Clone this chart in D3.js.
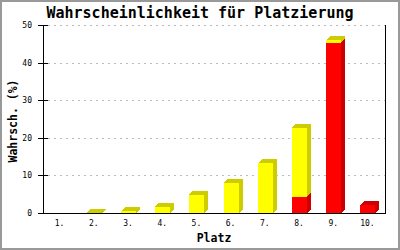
<!DOCTYPE html>
<html>
<head>
<meta charset="utf-8">
<script src="https://cdn.jsdelivr.net/npm/d3@7"></script>
<style>
html,body{margin:0;padding:0;background:#fff;}
svg{display:block;}
</style>
</head>
<body>
<script>
const categories = ["1.","2.","3.","4.","5.","6.","7.","8.","9.","10."];
const redValues =    [0, 0,   0,   0,   0,   0,   0,    4.3, 45.3, 2.0];
const yellowValues = [0, 0.1, 0.5, 1.6, 4.8, 8.1, 13.2, 18.4, 0.7, 0];
const yTicks = [0,10,20,30,40,50];
const titleText = "Wahrscheinlichkeit für Platzierung";
const xTitle = "Platz";
const yTitle = "Wahrsch. (%)";

const W = 400, H = 250;
const L = 43, R = 385, T = 25, B = 213;
const mono = "'DejaVu Sans Mono', 'Liberation Mono', monospace";

const svg = d3.select("body").append("svg").attr("width", W).attr("height", H);
svg.append("rect").attr("x",0).attr("y",0).attr("width",W).attr("height",H).attr("fill","#fff");
svg.append("rect").attr("x",1).attr("y",1).attr("width",W-2).attr("height",H-2)
  .attr("fill","none").attr("stroke","#999").attr("stroke-width",2);

const x = d3.scaleBand().domain(categories).range([L, R]).padding(0);
const y = d3.scaleLinear().domain([0, 50]).range([B, T]);

// grid
svg.append("g").selectAll("line").data(yTicks.filter(d => d > 0)).join("line")
  .attr("x1", L + 5).attr("x2", R).attr("y1", d => Math.round(y(d)) + 0.5).attr("y2", d => Math.round(y(d)) + 0.5)
  .attr("stroke", "#bbb").attr("stroke-dasharray", "2,4");

// stacked data
const series = [
  {vals: redValues, front: "#ff0000", dark: "#cc0000"},
  {vals: yellowValues, front: "#ffff00", dark: "#cccc00"}
];
const bw = 15, depth = 4;
const gBars = svg.append("g").attr("shape-rendering", "crispEdges");
categories.forEach((c, i) => {
  let base = 0;
  const cx = x(c) + x.bandwidth() / 2;
  const x0 = Math.round(cx - bw / 2), x1 = x0 + bw;
  series.forEach(s => {
    const v = s.vals[i];
    if (v <= 0) return;
    const yb = y(base), yt = y(base + v);
    base += v;
    // front
    gBars.append("rect").attr("x", x0).attr("y", yt).attr("width", bw).attr("height", yb - yt).attr("fill", s.front);
    // side
    gBars.append("path").attr("d", `M${x1},${yt}L${x1+depth},${yt-depth}L${x1+depth},${yb-depth}L${x1},${yb}Z`).attr("fill", s.dark);
    // top
    gBars.append("path").attr("d", `M${x0},${yt}L${x0+depth},${yt-depth}L${x1+depth},${yt-depth}L${x1},${yt}Z`).attr("fill", s.dark);
  });
});

// axes
const axG = svg.append("g").attr("shape-rendering", "crispEdges");
axG.append("line").attr("x1", L+0.5).attr("x2", L+0.5).attr("y1", T).attr("y2", B+1).attr("stroke", "#000");
axG.append("line").attr("x1", R+0.5).attr("x2", R+0.5).attr("y1", T).attr("y2", B+1).attr("stroke", "#000");
axG.append("line").attr("x1", L).attr("x2", R+1).attr("y1", B+0.5).attr("y2", B+0.5).attr("stroke", "#000");
axG.selectAll("line.tick").data(yTicks).join("line").attr("class","tick")
  .attr("x1", L - 5).attr("x2", L + 5).attr("y1", d => Math.round(y(d)) + 0.5).attr("y2", d => Math.round(y(d)) + 0.5)
  .attr("stroke", "#000");

svg.append("g").selectAll("text").data(yTicks).join("text")
  .attr("x", 32).attr("y", d => Math.round(y(d)) + 3)
  .attr("text-anchor", "end").attr("font-family", mono).attr("font-size", 8).text(d => d);

svg.append("g").selectAll("text").data(categories).join("text")
  .attr("x", d => x(d) + x.bandwidth()/2 - 0.5).attr("y", 226)
  .attr("text-anchor", "middle").attr("font-family", mono).attr("font-size", 8).text(d => d);

svg.append("text").attr("x", 200).attr("y", 18).attr("text-anchor", "middle")
  .attr("font-family", mono).attr("font-weight", "bold").attr("font-size", 15).text(titleText);
svg.append("text").attr("x", (L+R)/2).attr("y", 242).attr("text-anchor", "middle")
  .attr("font-family", mono).attr("font-weight", "bold").attr("font-size", 11.5).text(xTitle);
svg.append("text").attr("transform", `translate(17,${(T+B)/2+2}) rotate(-90)`).attr("text-anchor", "middle")
  .attr("font-family", mono).attr("font-weight", "bold").attr("font-size", 11.5).text(yTitle);
</script>
</body>
</html>
